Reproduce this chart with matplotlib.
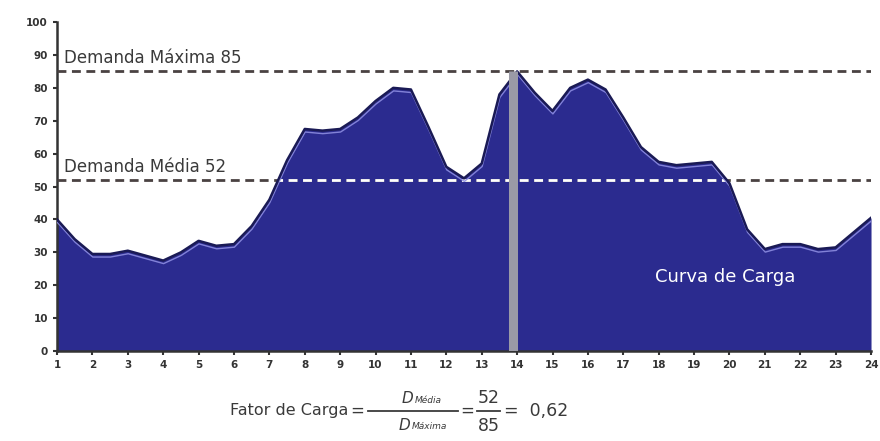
import matplotlib.pyplot as plt
import matplotlib.patheffects as pe
from matplotlib.lines import Line2D

# Curva de carga diária (leitura a cada meia hora)
horas = [1.0, 1.5, 2.0, 2.5, 3.0, 3.5, 4.0, 4.5, 5.0, 5.5, 6.0, 6.5, 7.0, 7.5,
         8.0, 8.5, 9.0, 9.5, 10.0, 10.5, 11.0, 11.5, 12.0, 12.5, 13.0, 13.5,
         14.0, 14.5, 15.0, 15.5, 16.0, 16.5, 17.0, 17.5, 18.0, 18.5, 19.0,
         19.5, 20.0, 20.5, 21.0, 21.5, 22.0, 22.5, 23.0, 23.5, 24.0]
demanda = [40, 34, 29.5, 29.5, 30.5, 29, 27.5, 30, 33.5, 32, 32.5, 38, 46, 58,
           67.5, 67, 67.5, 71, 76, 80, 79.5, 68, 56, 52.5, 57, 78,
           85, 78.5, 73, 80, 82.5, 79.5, 71, 62, 57.5, 56.5, 57,
           57.5, 51, 37, 31, 32.5, 32.5, 31, 31.5, 36, 40.5]

demanda_max = 85
demanda_media = 52
hora_max = 13.88
fator_carga = '0,62'

x_ticks = list(range(1, 25))
y_ticks = list(range(0, 101, 10))

fig = plt.figure(figsize=(8.8, 4.41), dpi=100)
ax = fig.add_axes([0.0648, 0.204, 0.925, 0.746])

# area
fill = ax.fill_between(horas, demanda, 0, color='#2b2b8f', zorder=2, linewidth=0)
ax.plot(horas, demanda, color='#1a1a55', lw=1.8, zorder=4, solid_joinstyle='round',
        path_effects=[pe.SimpleLineShadow(offset=(0.3, -2.2), shadow_color='#8c8ce0',
                                          alpha=0.9, linewidth=1.0), pe.Normal()])

# barra cinza no ponto de demanda maxima
ax.vlines(hora_max, 0, demanda_max, color='#9a9aa6', lw=6.5, zorder=5)

# linhas tracejadas
dash = (0, (3.2, 2))
ax.axhline(demanda_max, color='#4a4242', lw=2, linestyle=dash, zorder=3)
ax.axhline(demanda_media, color='#4a4242', lw=2, linestyle=dash, zorder=3)
for val in (demanda_max, demanda_media):
    ln = ax.axhline(val, color='white', lw=2, linestyle=dash, zorder=3.5)
    ln.set_clip_path(fill.get_paths()[0], transform=ax.transData)

ax.text(1.2, demanda_max + 2.5, 'Demanda Máxima 85', fontsize=12, color='#3a3a3a')
ax.text(1.2, demanda_media + 2.5, 'Demanda Média 52', fontsize=12, color='#3a3a3a')
ax.text(17.9, 22.5, 'Curva de Carga', fontsize=13, color='white', va='center', zorder=6)

ax.set_xlim(1, 24)
ax.set_ylim(0, 100)
ax.set_xticks(x_ticks)
ax.set_yticks(y_ticks)
ax.tick_params(labelsize=7.5, colors='#333333', length=3, width=1.5, direction='out')
for lab in ax.get_xticklabels() + ax.get_yticklabels():
    lab.set_fontweight('bold')
for s in ('top', 'right'):
    ax.spines[s].set_visible(False)
for s in ('left', 'bottom'):
    ax.spines[s].set_color('#333333')
    ax.spines[s].set_linewidth(1.8)

# formula do fator de carga
tc = '#3a3a3a'
yf = 1 - 411 / 441
fig.text(230 / 880, yf, 'Fator de Carga', fontsize=11.5, color=tc, va='center')
fig.text(357 / 880, yf, '=', fontsize=12, color=tc, ha='center', va='center')
fig.add_artist(Line2D([368 / 880, 458 / 880], [yf, yf], color=tc, lw=1.3))
fig.text(413 / 880, yf + 0.028, 'D', fontsize=11, color=tc, style='italic',
         ha='right', va='center')
fig.text(415 / 880, yf + 0.024, 'Média', fontsize=6.5, color=tc, style='italic', va='center')
fig.text(410 / 880, yf - 0.032, 'D', fontsize=11, color=tc, style='italic',
         ha='right', va='center')
fig.text(412 / 880, yf - 0.036, 'Máxima', fontsize=6.5, color=tc, style='italic', va='center')
fig.text(467 / 880, yf, '=', fontsize=12, color=tc, ha='center', va='center')
fig.add_artist(Line2D([477 / 880, 500 / 880], [yf, yf], color=tc, lw=1.3))
fig.text(488.5 / 880, yf + 0.03, '52', fontsize=12.5, color=tc, ha='center', va='center')
fig.text(488.5 / 880, yf - 0.034, '85', fontsize=12.5, color=tc, ha='center', va='center')
fig.text(504 / 880, yf, '=  ' + fator_carga, fontsize=12.5, color=tc, va='center')

fig.savefig('out.png', dpi=100)
